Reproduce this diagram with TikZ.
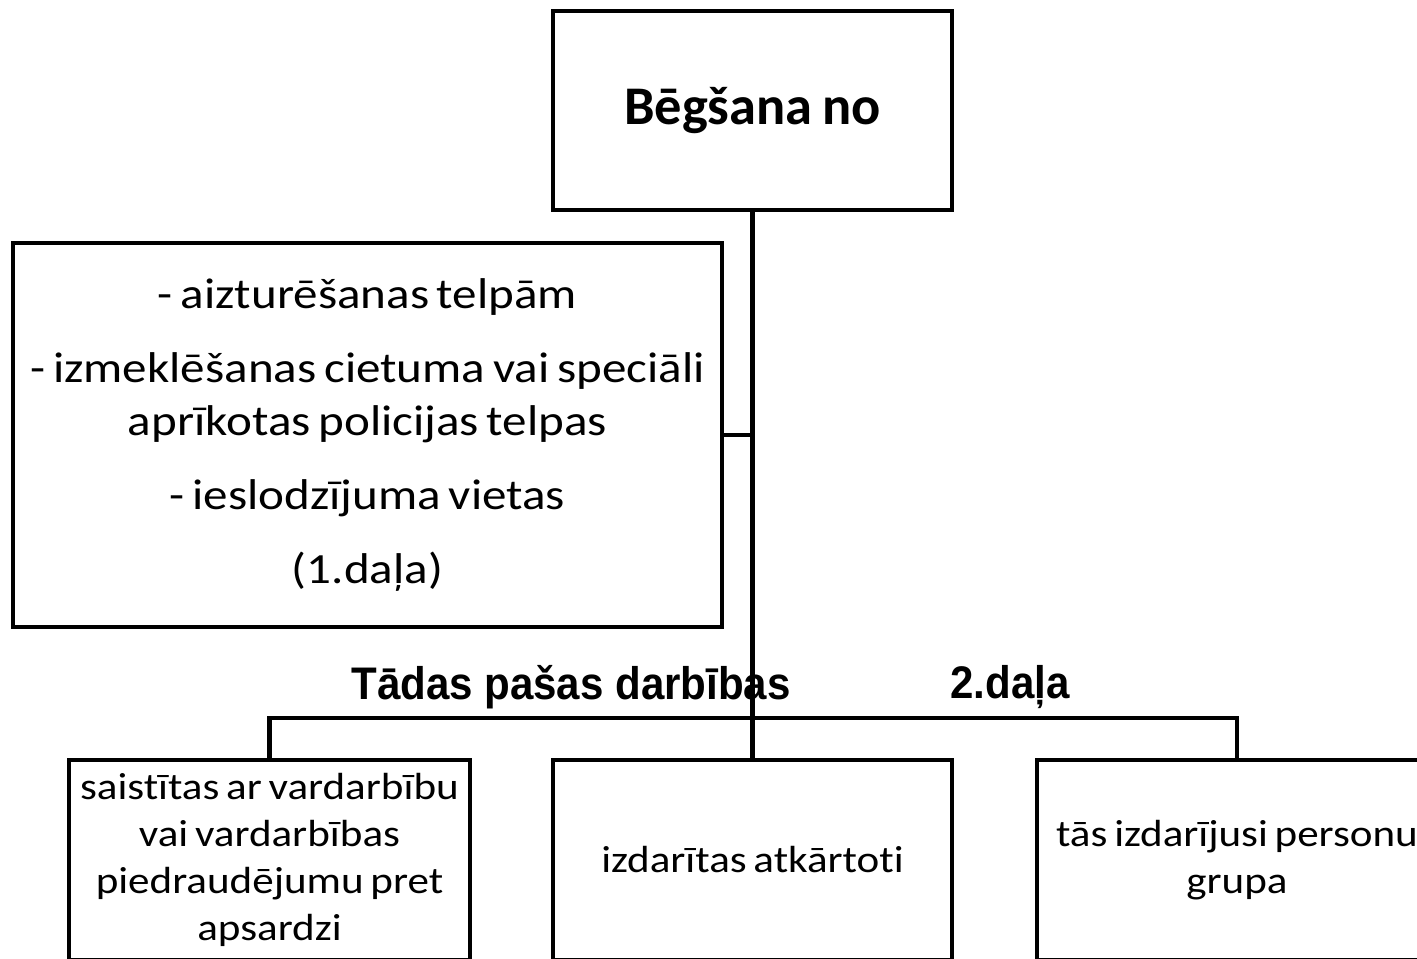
\documentclass[tikz,border=0pt]{standalone}
\usepackage{fontspec}
\setmainfont{Carlito}[FakeStretch=1.14, WordSpace=0.7, Ligatures=NoCommon]
\newfontfamily\titlefont{Carlito}[WordSpace=0.8]
\newfontfamily\arialfont{Liberation Sans}[FakeStretch=0.92]
\usetikzlibrary{positioning}

\tikzset{
	box/.style={draw, line width=2.3pt, rectangle, align=center, inner sep=0pt},
	link/.style={line width=2.6pt},
	lbl/.style={font=\arialfont\bfseries\fontsize{26}{30}\selectfont, inner sep=0pt},
}

\begin{document}
\begin{tikzpicture}[x=0.02cm, y=-0.02cm, line join=miter, line cap=rect]
	% Rāmis
	\useasboundingbox (0,0) rectangle (1417,958);
	\clip (0,0) rectangle (1417,958);

	% Augšējais bloks
	\node[box, minimum width=7.98cm, minimum height=3.98cm,
		font=\titlefont\bfseries\fontsize{31}{36}\selectfont] (top) at (752.5,110.5) {Bēgšana no};

	% 1.daļa
	\node[box, minimum width=14.18cm, minimum height=7.68cm,
		font=\fontsize{24.5}{30}\selectfont] (part1) at (367.5,435)
		{- aizturēšanas telpām\\[12pt]
		 - izmeklēšanas cietuma vai speciāli\\
		 aprīkotas policijas telpas\\[12pt]
		 - ieslodzījuma vietas\\[12pt]
		 (1.daļa)};

	% 2.daļa
	\node[box, minimum width=8.02cm, minimum height=4cm,
		font=\fontsize{21.5}{26.7}\selectfont] (force) at (269.5,860)
		{saistītas ar vardarbību\\ vai vardarbības\\ piedraudējumu pret\\ apsardzi};
	\node[box, minimum width=7.98cm, minimum height=4cm,
		font=\fontsize{21.5}{26.7}\selectfont] (again) at (752.5,860)
		{izdarītas atkārtoti};
	\node[box, minimum width=8cm, minimum height=4cm,
		font=\fontsize{21.5}{26.7}\selectfont] (group) at (1237,860)
		{tās izdarījusi personu\\ grupa};

	% Savienojumi
	\coordinate (bus) at (752,718);
	\draw[link] (top.south) -- (again.north);
	\draw[link] (part1.east) -- (part1.east -| top.south);
	\draw[link] (force.north) |- (group.north |- bus) -- (group.north);

	% Uzraksti
	\node[lbl] (same) at (571,687) {Tādas pašas darbības};
	\node[lbl] (part2) at (1010,687) {2.daļa};
\end{tikzpicture}
\end{document}
